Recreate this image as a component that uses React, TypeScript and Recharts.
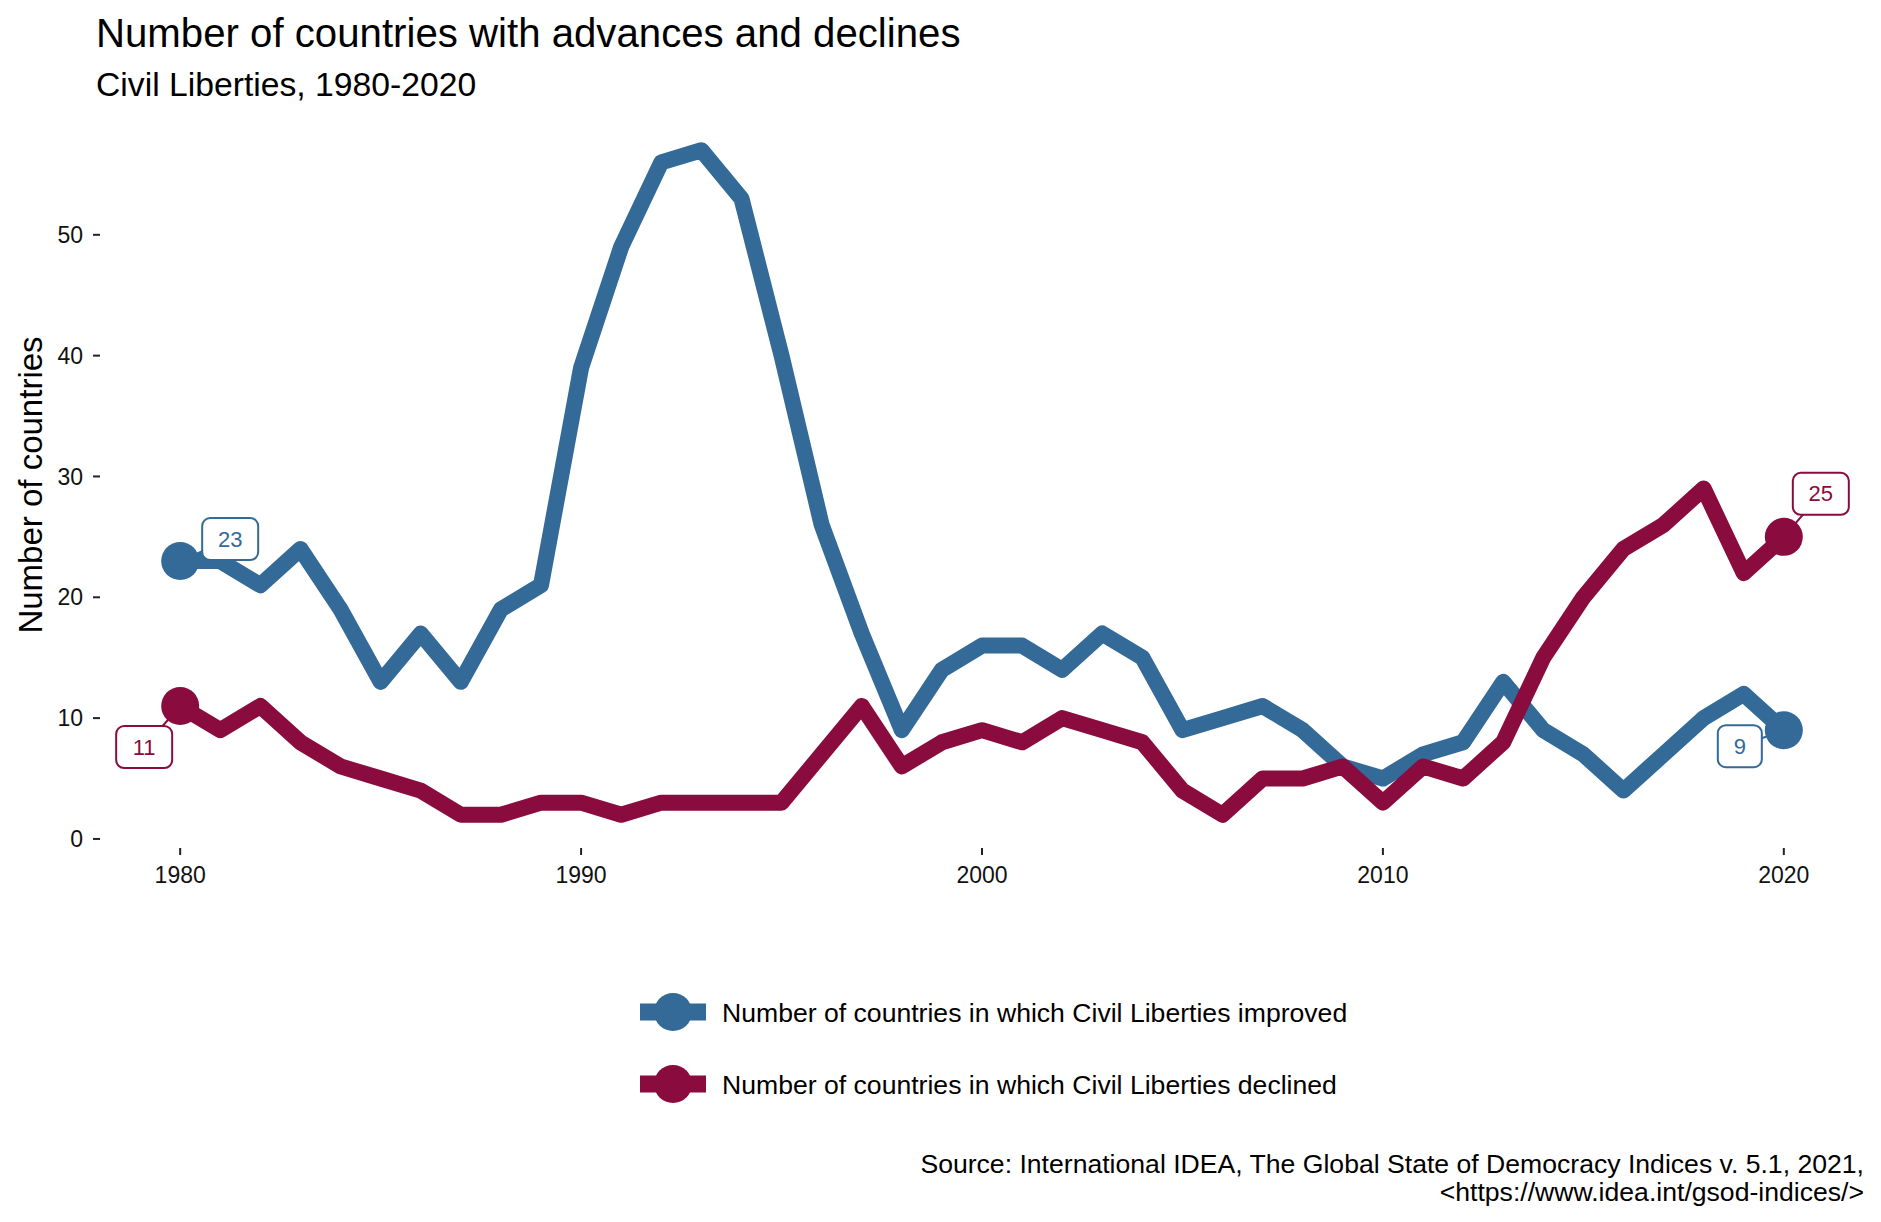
import React from 'react';
import { LineChart, Line, XAxis, YAxis } from 'recharts';

const years = [1980, 1981, 1982, 1983, 1984, 1985, 1986, 1987, 1988, 1989, 1990, 1991, 1992, 1993, 1994, 1995, 1996, 1997, 1998, 1999, 2000, 2001, 2002, 2003, 2004, 2005, 2006, 2007, 2008, 2009, 2010, 2011, 2012, 2013, 2014, 2015, 2016, 2017, 2018, 2019, 2020];
const improved = [23, 23, 21, 24, 19, 13, 17, 13, 19, 21, 39, 49, 56, 57, 53, 40, 26, 17, 9, 14, 16, 16, 14, 17, 15, 9, 10, 11, 9, 6, 5, 7, 8, 13, 9, 7, 4, 7, 10, 12, 9];
const declined = [11, 9, 11, 8, 6, 5, 4, 2, 2, 3, 3, 2, 3, 3, 3, 3, 7, 11, 6, 8, 9, 8, 10, 9, 8, 4, 2, 5, 5, 6, 3, 6, 5, 8, 15, 20, 24, 26, 29, 22, 25];
const xTicks = [1980, 1990, 2000, 2010, 2020];
const yTicks = [0, 10, 20, 30, 40, 50];

const title = 'Number of countries with advances and declines';
const subtitle = 'Civil Liberties, 1980-2020';
const yLabel = 'Number of countries';
const legendLabels = [
  'Number of countries in which Civil Liberties improved',
  'Number of countries in which Civil Liberties declined',
];
const captionLines = [
  'Source: International IDEA, The Global State of Democracy Indices v. 5.1, 2021,',
  '<https://www.idea.int/gsod-indices/>',
];

const BLUE = '#336A98';
const RED = '#8A0B3D';
const FONT = '"Liberation Sans", Arial, Helvetica, sans-serif';

const data = years.map((y, i) => ({ year: y, improved: improved[i], declined: declined[i] }));

// label box offsets (style config): [first, last]
const labelOffsets: Record<string, { dx: number; dy: number }[]> = {
  improved: [{ dx: 50, dy: -22 }, { dx: -44, dy: 16 }],
  declined: [{ dx: -36, dy: 41 }, { dx: 37, dy: -43 }],
};

const makeDot = (color: string) => (props: any) => {
  const { cx, cy, index } = props;
  if (index === 0 || index === data.length - 1) {
    return <circle key={`d-${index}`} cx={cx} cy={cy} r={19} fill={color} />;
  }
  return <g key={`d-${index}`} />;
};

const makeLabel = (color: string, key: string) => (props: any) => {
  const { x, y, index, value } = props;
  if (index !== 0 && index !== data.length - 1) return <g key={`l-${index}`} />;
  const off = labelOffsets[key][index === 0 ? 0 : 1];
  const txt = String(value);
  const w = txt.length > 1 ? 56 : 44;
  const h = 42;
  const bx = x + off.dx;
  const by = y + off.dy;
  return (
    <g key={`l-${index}`}>
      <line x1={x} y1={y} x2={bx} y2={by} stroke={color} strokeWidth={2} />
      <rect x={bx - w / 2} y={by - h / 2} width={w} height={h} rx={8} ry={8} fill="#fff" stroke={color} strokeWidth={2} />
      <text x={bx} y={by} textAnchor="middle" dominantBaseline="central" fontSize={22} fill={color} fontFamily={FONT}>
        {txt}
      </text>
    </g>
  );
};

export default function App() {
  return (
    <div style={{ position: 'absolute', left: 0, top: 0, width: 1881, height: 1222, background: '#fff', fontFamily: FONT }}>
      <LineChart width={1881} height={1222} data={data} margin={{ top: 117, right: 17, bottom: 324, left: 0 }}>
        <XAxis
          dataKey="year"
          type="number"
          domain={[1978, 2022]}
          ticks={xTicks}
          allowDataOverflow
          axisLine={false}
          tickLine={{ stroke: '#222', strokeWidth: 2 }}
          tickSize={7}
          tickMargin={12}
          height={50}
          tick={{ fontSize: 23, fill: '#111', fontFamily: FONT }}
        />
        <YAxis
          type="number"
          domain={[-0.75, 59.75]}
          ticks={yTicks}
          allowDataOverflow
          axisLine={false}
          tickLine={{ stroke: '#222', strokeWidth: 2 }}
          tickSize={7}
          tickMargin={10}
          width={100}
          tick={{ fontSize: 23, fill: '#111', fontFamily: FONT }}
        />
        <Line
          dataKey="improved"
          type="linear"
          stroke={BLUE}
          strokeWidth={16}
          strokeLinejoin="round"
          isAnimationActive={false}
          dot={makeDot(BLUE)}
          activeDot={false}
          label={makeLabel(BLUE, 'improved')}
        />
        <Line
          dataKey="declined"
          type="linear"
          stroke={RED}
          strokeWidth={16}
          strokeLinejoin="round"
          isAnimationActive={false}
          dot={makeDot(RED)}
          activeDot={false}
          label={makeLabel(RED, 'declined')}
        />
      </LineChart>
      <svg width={1881} height={1222} style={{ position: 'absolute', left: 0, top: 0, pointerEvents: 'none' }}>
        <text x={96} y={47} fontSize={40.2} fill="#000" fontFamily={FONT}>{title}</text>
        <text x={96} y={96} fontSize={33.7} fill="#000" fontFamily={FONT}>{subtitle}</text>
        <text x={42} y={485} fontSize={33} fill="#000" fontFamily={FONT} textAnchor="middle" transform="rotate(-90 42 485)">{yLabel}</text>
        {legendLabels.map((lbl, i) => {
          const cy = 1012 + i * 72;
          const c = i === 0 ? BLUE : RED;
          return (
            <g key={lbl}>
              <line x1={640} y1={cy} x2={706} y2={cy} stroke={c} strokeWidth={17} />
              <circle cx={673} cy={cy} r={19} fill={c} />
              <text x={722} y={cy + 9.5} fontSize={26.6} fill="#000" fontFamily={FONT}>{lbl}</text>
            </g>
          );
        })}
        {captionLines.map((ln, i) => (
          <text key={ln} x={1864} y={1173 + i * 28} fontSize={26.6} fill="#000" fontFamily={FONT} textAnchor="end">{ln}</text>
        ))}
      </svg>
    </div>
  );
}
